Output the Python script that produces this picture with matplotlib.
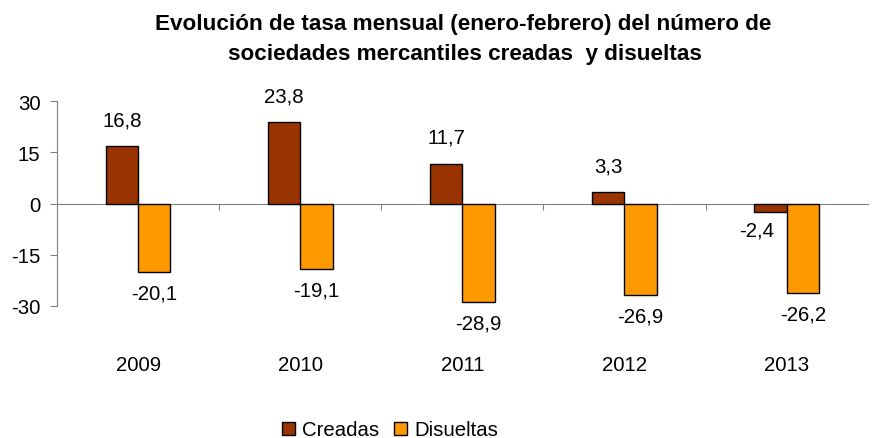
import matplotlib
matplotlib.use("Agg")
import matplotlib.pyplot as plt
import matplotlib.transforms as mtransforms
import numpy as np

plt.rcParams['font.family'] = ['Liberation Sans', 'DejaVu Sans']

years = ["2009", "2010", "2011", "2012", "2013"]
creadas = [16.8, 23.8, 11.7, 3.3, -2.4]
disueltas = [-20.1, -19.1, -28.9, -26.9, -26.2]
yticks = [-30, -15, 0, 15, 30]

FS = 14.7

fig = plt.figure(figsize=(8.72, 4.39), dpi=100)
ax = fig.add_axes([57/872, 1-307/439, 1-57/872-0.005, (307-102)/439])

x = np.arange(len(years))
w = 0.2
b1 = ax.bar(x - w/2, creadas, w, color="#993300", edgecolor="black", linewidth=1, label="Creadas", zorder=3)
b2 = ax.bar(x + w/2, disueltas, w, color="#FF9900", edgecolor="black", linewidth=1, label="Disueltas", zorder=3)

ax.set_xlim(-0.5, len(years) - 0.5)
ax.set_ylim(-30, 30)
ax.set_yticks(yticks)
ax.set_yticklabels([str(t) for t in yticks], fontsize=FS)

for s in ["top", "right"]:
    ax.spines[s].set_visible(False)
ax.spines["left"].set_color("#808080")
ax.spines["bottom"].set_position(("data", 0))
ax.spines["bottom"].set_color("#808080")
ax.set_xticks(x[:-1] + 0.5)
ax.set_xticklabels([])
ax.tick_params(axis="x", length=4, color="#808080", direction="out")
ax.tick_params(axis="y", length=5, color="#808080", pad=7)

trans = mtransforms.blended_transform_factory(ax.transData, ax.transAxes)
for xi, yr in zip(x, years):
    ax.text(xi, -0.283, yr, transform=trans, ha="center", va="center", fontsize=FS)

def fmt(v):
    return f"{v:.1f}".replace(".", ",")

for xi, v in zip(x, creadas):
    if v >= 0:
        ax.annotate(fmt(v), (xi - w/2, v), xytext=(0, 19), textcoords="offset points",
                    ha="center", va="center", fontsize=FS)
    else:
        ax.annotate(fmt(v), (xi - w/2, v), xytext=(-10, -13), textcoords="offset points",
                    ha="center", va="center", fontsize=FS)
for xi, v in zip(x, disueltas):
    ax.annotate(fmt(v), (xi + w/2, v), xytext=(0, -15), textcoords="offset points",
                ha="center", va="center", fontsize=FS)

fig.text(463/872, 1-30/439, "Evolución de tasa mensual (enero-febrero) del número de",
         ha="center", va="baseline", fontsize=16.2, fontweight="bold")
fig.text(465/872, 1-60/439, "sociedades mercantiles creadas  y disueltas",
         ha="center", va="baseline", fontsize=16.2, fontweight="bold")

fig.legend(handles=[b1, b2], loc="center", bbox_to_anchor=(390/872, 1-431/439), ncol=2,
           frameon=False, fontsize=FS, handlelength=0.65, handleheight=0.65, handletextpad=0.35,
           columnspacing=0.7, borderpad=0)

fig.savefig("out.png", dpi=100)
